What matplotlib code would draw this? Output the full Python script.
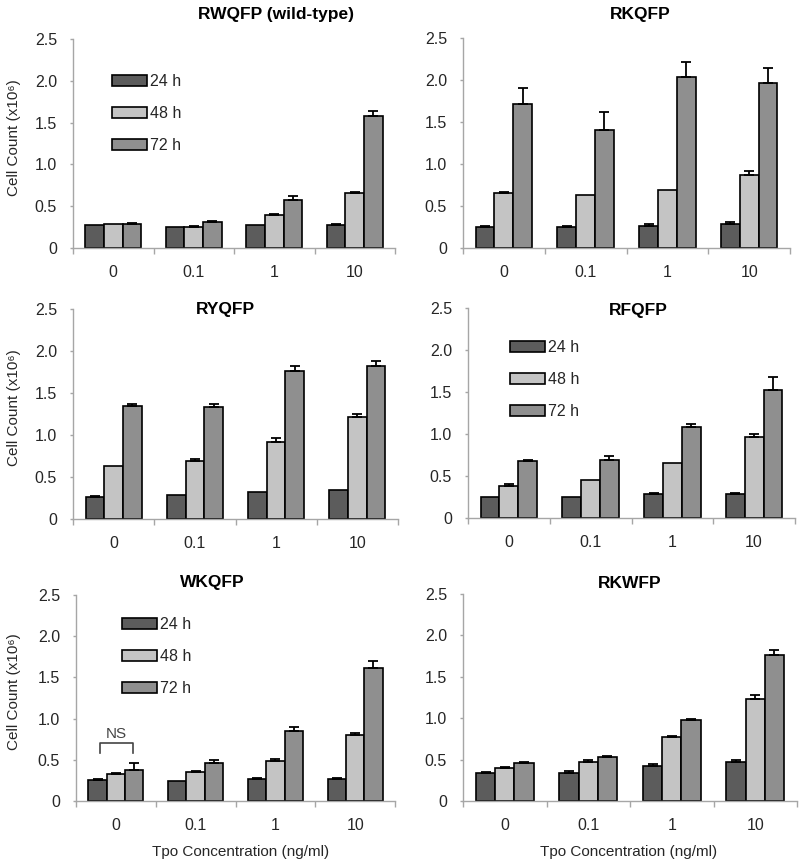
import numpy as np
import matplotlib
matplotlib.use("Agg")
import matplotlib.pyplot as plt
from matplotlib.ticker import FixedLocator, NullFormatter

plt.rcParams['font.family'] = ['Liberation Sans', 'DejaVu Sans']

conc = ['0', '0.1', '1', '10']
series = ['24 h', '48 h', '72 h']
colors = ['#5c5c5c', '#c4c4c4', '#8f8f8f']

# --- data (x10^6 cells) ---
rwqfp_24 = [0.27, 0.25, 0.27, 0.27];   rwqfp_24e = [0.0, 0.0, 0.0, 0.015]
rwqfp_48 = [0.29, 0.25, 0.39, 0.655];  rwqfp_48e = [0.0, 0.01, 0.02, 0.015]
rwqfp_72 = [0.29, 0.31, 0.575, 1.58];  rwqfp_72e = [0.015, 0.015, 0.045, 0.06]

rkqfp_24 = [0.245, 0.245, 0.265, 0.29]; rkqfp_24e = [0.015, 0.015, 0.015, 0.015]
rkqfp_48 = [0.655, 0.63, 0.695, 0.875]; rkqfp_48e = [0.015, 0.0, 0.0, 0.045]
rkqfp_72 = [1.715, 1.41, 2.04, 1.96];   rkqfp_72e = [0.19, 0.21, 0.17, 0.18]

ryqfp_24 = [0.263, 0.287, 0.326, 0.346]; ryqfp_24e = [0.015, 0.0, 0.0, 0.0]
ryqfp_48 = [0.633, 0.693, 0.92, 1.21];   ryqfp_48e = [0.0, 0.02, 0.045, 0.04]
ryqfp_72 = [1.35, 1.334, 1.764, 1.823];  ryqfp_72e = [0.02, 0.04, 0.06, 0.06]

rfqfp_24 = [0.246, 0.246, 0.286, 0.286]; rfqfp_24e = [0.0, 0.0, 0.015, 0.015]
rfqfp_48 = [0.385, 0.449, 0.656, 0.962]; rfqfp_48e = [0.02, 0.0, 0.0, 0.04]
rfqfp_72 = [0.676, 0.696, 1.085, 1.518]; rfqfp_72e = [0.02, 0.045, 0.04, 0.16]

wkqfp_24 = [0.255, 0.247, 0.267, 0.267]; wkqfp_24e = [0.012, 0.0, 0.012, 0.012]
wkqfp_48 = [0.328, 0.348, 0.49, 0.80];   wkqfp_48e = [0.016, 0.016, 0.024, 0.02]
wkqfp_72 = [0.376, 0.457, 0.85, 1.62];   wkqfp_72e = [0.09, 0.036, 0.05, 0.077]

rkwfp_24 = [0.334, 0.334, 0.427, 0.467]; rkwfp_24e = [0.012, 0.03, 0.016, 0.03]
rkwfp_48 = [0.395, 0.47, 0.77, 1.236];   rkwfp_48e = [0.02, 0.028, 0.02, 0.045]
rkwfp_72 = [0.459, 0.535, 0.982, 1.763]; rkwfp_72e = [0.012, 0.012, 0.008, 0.056]

W, H = 799, 861
fig = plt.figure(figsize=(W / 100, H / 100), dpi=100)

# panel layout in pixels: (left, top, right, bottom), title center (x, y), legend pos
panels = [
    dict(name='RWQFP (wild-type)', box=(73, 39, 395, 248), title=(276, 15),
         vals=[rwqfp_24, rwqfp_48, rwqfp_72], errs=[rwqfp_24e, rwqfp_48e, rwqfp_72e],
         ylabel=True, xlabel=None, legend=(112, 74)),
    dict(name='RKQFP', box=(463, 38, 790, 248), title=(640, 15),
         vals=[rkqfp_24, rkqfp_48, rkqfp_72], errs=[rkqfp_24e, rkqfp_48e, rkqfp_72e],
         ylabel=False, xlabel=None, legend=None),
    dict(name='RYQFP', box=(73, 309, 398, 519), title=(225, 310),
         vals=[ryqfp_24, ryqfp_48, ryqfp_72], errs=[ryqfp_24e, ryqfp_48e, ryqfp_72e],
         ylabel=True, xlabel=None, legend=None),
    dict(name='RFQFP', box=(468, 308, 795, 518), title=(638, 311),
         vals=[rfqfp_24, rfqfp_48, rfqfp_72], errs=[rfqfp_24e, rfqfp_48e, rfqfp_72e],
         ylabel=False, xlabel=None, legend=(510, 340)),
    dict(name='WKQFP', box=(76, 595, 395, 801), title=(212, 583),
         vals=[wkqfp_24, wkqfp_48, wkqfp_72], errs=[wkqfp_24e, wkqfp_48e, wkqfp_72e],
         ylabel=True, xlabel=241, legend=(122, 617)),
    dict(name='RKWFP', box=(463, 594, 797, 801), title=(630, 583),
         vals=[rkwfp_24, rkwfp_48, rkwfp_72], errs=[rkwfp_24e, rkwfp_48e, rkwfp_72e],
         ylabel=False, xlabel=629, legend=None),
]

axis_gray = '#a6a6a6'
text_col = '#262626'
bw = 0.23
x = np.arange(len(conc))

for p in panels:
    l, t, r, b = p['box']
    ax = fig.add_axes([l / W, 1 - b / H, (r - l) / W, (b - t) / H])
    handles = []
    for i, (v, e, c) in enumerate(zip(p['vals'], p['errs'], colors)):
        xs = x + (i - 1) * bw
        bars = ax.bar(xs, v, width=bw, color=c, edgecolor='black', linewidth=1.2,
                      label=series[i], zorder=2)
        handles.append(bars)
        v = np.array(v); e = np.array(e)
        m = e > 0
        if m.any():
            ax.errorbar(xs[m], v[m], yerr=[np.zeros(m.sum()), e[m]], fmt='none',
                        ecolor='black', elinewidth=1.3, capsize=3.3, capthick=1.3,
                        zorder=3)
    ax.set_xlim(-0.5, len(conc) - 0.5)
    ax.set_ylim(0, 2.5)
    for s in ['top', 'right']:
        ax.spines[s].set_visible(False)
    for s in ['left', 'bottom']:
        ax.spines[s].set_color(axis_gray)
        ax.spines[s].set_linewidth(1.0)
    ax.set_yticks([0, 0.5, 1.0, 1.5, 2.0, 2.5])
    ax.set_yticklabels(['0', '0.5', '1.0', '1.5', '2.0', '2.5'])
    ax.tick_params(axis='y', length=2.5, width=1.0, color=axis_gray, pad=9,
                   labelsize=11.5, labelcolor=text_col)
    ax.set_xticks(x)
    ax.set_xticklabels(conc)
    ax.tick_params(axis='x', which='major', length=0, pad=12.5,
                   labelsize=11.5, labelcolor=text_col)
    ax.xaxis.set_minor_locator(FixedLocator(np.arange(-0.5, len(conc), 1.0)))
    ax.xaxis.set_minor_formatter(NullFormatter())
    ax.tick_params(axis='x', which='minor', length=4, width=1.0, color=axis_gray)

    fig.text(p['title'][0] / W, 1 - p['title'][1] / H, p['name'], ha='center',
             va='center', fontsize=12.5, fontweight='bold', color='black')
    if p['ylabel']:
        fig.text(14 / W, 1 - ((t + b) / 2 - 6) / H, 'Cell Count (x10\u2076)', rotation=90,
                 ha='center', va='center', fontsize=11, color=text_col)
    if p['xlabel'] is not None:
        fig.text(p['xlabel'] / W, 1 - 852 / H, 'Tpo Concentration (ng/ml)',
                 ha='center', va='center', fontsize=11, color=text_col)
    if p['legend'] is not None:
        lx, ly = p['legend']
        ax.legend(handles=handles, labels=series, loc='upper left',
                  bbox_to_anchor=(lx / W, 1 - ly / H), bbox_transform=fig.transFigure,
                  frameon=False, borderpad=0, borderaxespad=0,
                  handlelength=2.2, handleheight=0.65, handletextpad=0.15,
                  labelspacing=1.07, fontsize=11.5, labelcolor=text_col)
    if p['name'] == 'WKQFP':
        # NS bracket over the 0 ng/ml group
        ax.plot([-0.2, -0.2, 0.21, 0.21], [0.578, 0.70, 0.70, 0.578],
                color='#444444', lw=1.2, zorder=4)
        ax.text(0.0, 0.81, 'NS', ha='center', va='center', fontsize=11,
                color='#444444')

fig.savefig('out.png', dpi=100)
